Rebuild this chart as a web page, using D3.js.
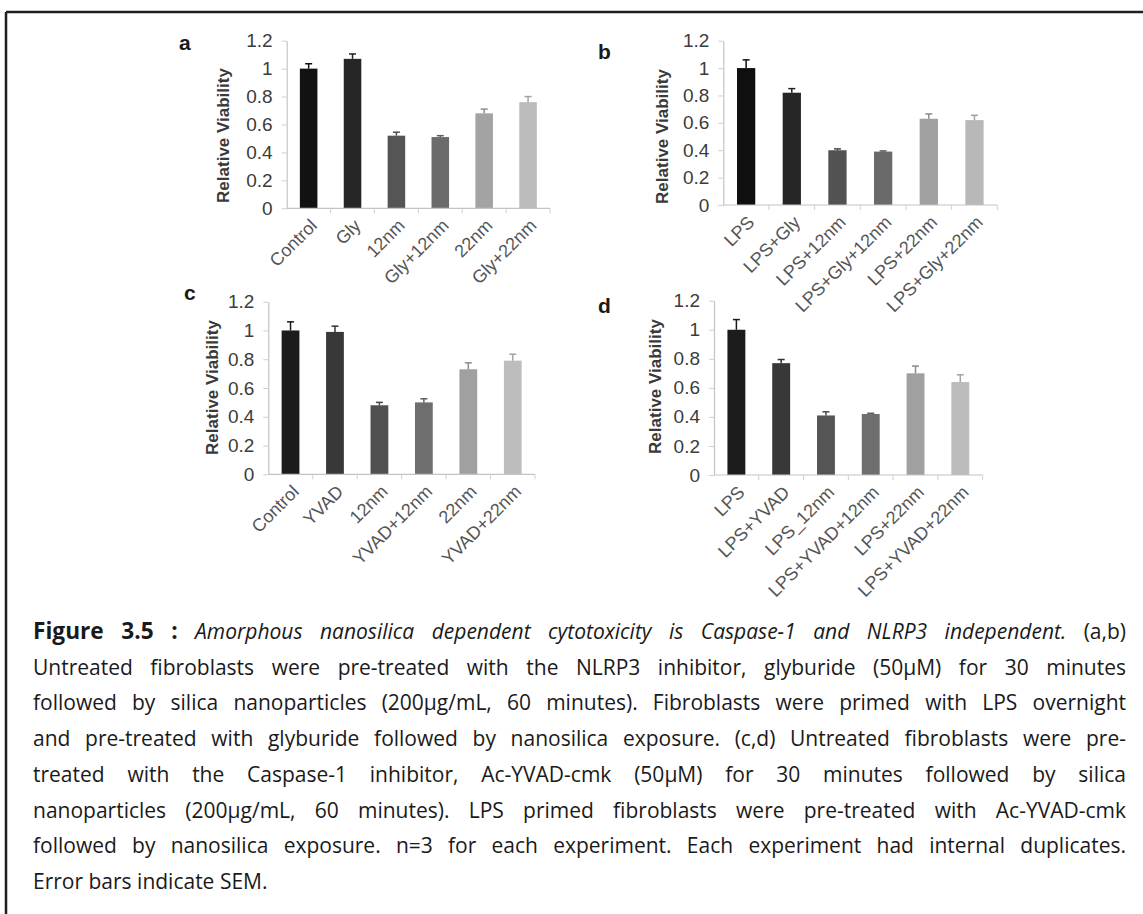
<!DOCTYPE html>
<html><head><meta charset="utf-8">
<script src="https://cdn.jsdelivr.net/npm/d3@7"></script>
<style>
body{margin:0;background:#fff}
svg{display:block}
</style>
</head><body>
<svg id="chart" width="1143" height="914"></svg>
<script>
// ---------- DATA ----------
const yTickValues = [0, 0.2, 0.4, 0.6, 0.8, 1, 1.2];
const yTickLabels = ["0", "0.2", "0.4", "0.6", "0.8", "1", "1.2"];

const catsA = ["Control", "Gly", "12nm", "Gly+12nm", "22nm", "Gly+22nm"];
const valsA = [1.0, 1.07, 0.52, 0.51, 0.68, 0.76];
const errsA = [0.035, 0.035, 0.025, 0.01, 0.03, 0.04];

const catsB = ["LPS", "LPS+Gly", "LPS+12nm", "LPS+Gly+12nm", "LPS+22nm", "LPS+Gly+22nm"];
const valsB = [1.0, 0.82, 0.40, 0.39, 0.63, 0.62];
const errsB = [0.06, 0.03, 0.01, 0.005, 0.035, 0.035];

const catsC = ["Control", "YVAD", "12nm", "YVAD+12nm", "22nm", "YVAD+22nm"];
const valsC = [1.0, 0.99, 0.48, 0.50, 0.73, 0.79];
const errsC = [0.06, 0.04, 0.02, 0.025, 0.045, 0.045];

const catsD = ["LPS", "LPS+YVAD", "LPS_12nm", "LPS+YVAD+12nm", "LPS+22nm", "LPS+YVAD+22nm"];
const valsD = [1.0, 0.77, 0.41, 0.42, 0.70, 0.64];
const errsD = [0.07, 0.025, 0.025, 0.005, 0.05, 0.05];

const panelLetters = ["a", "b", "c", "d"];
const yAxisTitle = "Relative Viability";

const captionLines = [
  [["Figure 3.5 :", "bold"], ["Amorphous nanosilica dependent cytotoxicity is Caspase-1 and NLRP3 independent.", "italic"], ["(a,b)", "normal"]],
  [["Untreated fibroblasts were pre-treated with the NLRP3 inhibitor, glyburide (50µM) for 30 minutes", "normal"]],
  [["followed by silica nanoparticles (200µg/mL, 60 minutes). Fibroblasts were primed with LPS overnight", "normal"]],
  [["and pre-treated with glyburide followed by nanosilica exposure. (c,d) Untreated fibroblasts were pre-", "normal"]],
  [["treated with the Caspase-1 inhibitor, Ac-YVAD-cmk (50µM) for 30 minutes followed by silica", "normal"]],
  [["nanoparticles (200µg/mL, 60 minutes). LPS primed fibroblasts were pre-treated with Ac-YVAD-cmk", "normal"]],
  [["followed by nanosilica exposure. n=3 for each experiment. Each experiment had internal duplicates.", "normal"]],
  [["Error bars indicate SEM.", "normal"]]
];

// ---------- STYLE / LAYOUT ----------
const palettes = [
  ["#121212", "#262626", "#555555", "#6b6b6b", "#a3a3a3", "#bcbcbc"],
  ["#0f0f0f", "#262626", "#525252", "#6a6a6a", "#a0a0a0", "#b8b8b8"],
  ["#1c1c1c", "#383838", "#505050", "#6e6e6e", "#a0a0a0", "#bdbdbd"],
  ["#1c1c1c", "#383838", "#555555", "#6e6e6e", "#a0a0a0", "#bcbcbc"]
];
const layouts = [
  {x0: 286.7, x1: 550,   yTop: 40.7,  yBot: 208.3, titleX: 223, titleY: 135.5, letterX: 179, letterY: 50},
  {x0: 723.3, x1: 997.3, yTop: 40.7,  yBot: 205,   titleX: 662, titleY: 136.5, letterX: 598, letterY: 59},
  {x0: 268.3, x1: 535,   yTop: 301.7, yBot: 474.3, titleX: 212, titleY: 387.5, letterX: 184, letterY: 300},
  {x0: 714,   x1: 982.7, yTop: 300.7, yBot: 475,   titleX: 655, titleY: 386.5, letterX: 598, letterY: 313}
];
const panelData = [
  {cats: catsA, vals: valsA, errs: errsA},
  {cats: catsB, vals: valsB, errs: errsB},
  {cats: catsC, vals: valsC, errs: errsC},
  {cats: catsD, vals: valsD, errs: errsD}
];

const svg = d3.select("#chart");
const chartFont = "'Liberation Sans', Arial, sans-serif";

// frame
svg.append("line").attr("x1", 6).attr("y1", 12).attr("x2", 1143).attr("y2", 12)
  .attr("stroke", "#1e1e1e").attr("stroke-width", 2.5);
svg.append("line").attr("x1", 6).attr("y1", 12).attr("x2", 6).attr("y2", 914)
  .attr("stroke", "#1e1e1e").attr("stroke-width", 2.5);

panelData.forEach((pd, pi) => {
  const L = layouts[pi];
  const g = svg.append("g");
  const x = d3.scaleBand().domain(pd.cats).range([L.x0, L.x1]).paddingInner(0.6).paddingOuter(0.3);
  const y = d3.scaleLinear().domain([0, 1.2]).range([L.yBot, L.yTop]);

  // y axis
  const ya = g.append("g").attr("transform", `translate(${L.x0},0)`)
    .call(d3.axisLeft(y).tickValues(yTickValues).tickFormat((d, i) => yTickLabels[i])
      .tickSize(5).tickSizeOuter(0).tickPadding(9));
  ya.select(".domain").attr("stroke", "#c4c4c4").attr("stroke-width", 1.2);
  ya.selectAll(".tick line").attr("stroke", "#cfcfcf");
  ya.selectAll(".tick text").attr("font-family", chartFont).attr("font-size", 19)
    .attr("fill", "#3c3c3c");

  // bars
  g.selectAll("rect.bar").data(pd.cats).join("rect").attr("class", "bar")
    .attr("x", d => x(d)).attr("width", x.bandwidth())
    .attr("y", (d, i) => y(pd.vals[i]))
    .attr("height", (d, i) => y(0) - y(pd.vals[i]))
    .attr("fill", (d, i) => palettes[pi][i]);

  // error bars (upper only)
  const eb = g.selectAll("g.err").data(pd.cats).join("g").attr("class", "err");
  eb.append("line")
    .attr("x1", d => x(d) + x.bandwidth() / 2).attr("x2", d => x(d) + x.bandwidth() / 2)
    .attr("y1", (d, i) => y(pd.vals[i])).attr("y2", (d, i) => y(pd.vals[i] + pd.errs[i]))
    .attr("stroke", (d, i) => d3.color(palettes[pi][i]).darker(0.4)).attr("stroke-width", 1.5);
  eb.append("line")
    .attr("x1", d => x(d) + x.bandwidth() / 2 - 3.5).attr("x2", d => x(d) + x.bandwidth() / 2 + 3.5)
    .attr("y1", (d, i) => y(pd.vals[i] + pd.errs[i])).attr("y2", (d, i) => y(pd.vals[i] + pd.errs[i]))
    .attr("stroke", (d, i) => d3.color(palettes[pi][i]).darker(0.4)).attr("stroke-width", 1.5);

  // x axis line and boundary ticks
  g.append("line").attr("x1", L.x0).attr("x2", L.x1).attr("y1", y(0)).attr("y2", y(0))
    .attr("stroke", "#c4c4c4").attr("stroke-width", 1.2);
  g.selectAll("line.xt").data(pd.cats).join("line").attr("class", "xt")
    .attr("x1", d => x(d) + x.bandwidth() / 2 + x.step() / 2)
    .attr("x2", d => x(d) + x.bandwidth() / 2 + x.step() / 2)
    .attr("y1", y(0)).attr("y2", y(0) + 5)
    .attr("stroke", "#cfcfcf");

  // x labels
  g.selectAll("text.xl").data(pd.cats).join("text").attr("class", "xl")
    .attr("transform", d => `translate(${x(d) + x.bandwidth() / 2 + 5},${y(0) + 14}) rotate(-45)`)
    .attr("text-anchor", "end").attr("dy", "0.35em")
    .attr("font-family", chartFont).attr("font-size", 18).attr("fill", "#555")
    .text(d => d);

  // y title
  g.append("text")
    .attr("transform", `translate(${L.titleX},${L.titleY}) rotate(-90)`)
    .attr("text-anchor", "middle").attr("dy", "0.35em")
    .attr("font-family", chartFont).attr("font-size", 17).attr("font-weight", "bold")
    .attr("fill", "#3a3a3a").text(yAxisTitle);

  // panel letter
  g.append("text").attr("x", L.letterX).attr("y", L.letterY)
    .attr("font-family", chartFont).attr("font-size", 21).attr("font-weight", "bold")
    .attr("fill", "#1a1a1a").text(panelLetters[pi]);
});

// ---------- CAPTION (justified) ----------
const capFont = "'Open Sans', 'Noto Sans', sans-serif";
const capLeft = 33, capRight = 1126, capTop = 639, capStep = 35.7;
const meas = svg.append("text").attr("font-family", capFont).attr("x", -9999).attr("y", -9999);
function wordWidth(w, style, fs) {
  meas.attr("font-size", style === "bold" ? fs * 1.08 : fs)
    .attr("font-weight", style === "bold" ? "bold" : "normal")
    .attr("font-style", style === "italic" ? "italic" : "normal")
    .text(w);
  return meas.node().getComputedTextLength();
}
function tokens(line) {
  const out = [];
  line.forEach(([t, s]) => t.split(" ").filter(w => w.length).forEach(w => out.push({w, s})));
  return out;
}
// fit font size to the tightest justified line
let fs = 20;
{
  let worst = 0;
  captionLines.slice(0, -1).forEach(line => {
    const tk = tokens(line);
    const sp = wordWidth("a a", "normal", 1) - wordWidth("aa", "normal", 1);
    let w = 0; tk.forEach(t => w += wordWidth(t.w, t.s, 20));
    w += (tk.length - 1) * sp * 20;
    worst = Math.max(worst, w);
  });
  fs = Math.max(15, Math.min(21, 20 * (capRight - capLeft) / worst * 0.995));
}
const spaceW = wordWidth("a a", "normal", fs) - wordWidth("aa", "normal", fs);
captionLines.forEach((line, li) => {
  const tk = tokens(line);
  const widths = tk.map(t => wordWidth(t.w, t.s, fs));
  const total = d3.sum(widths);
  const last = li === captionLines.length - 1;
  const gap = last ? spaceW : (capRight - capLeft - total) / (tk.length - 1);
  const txt = svg.append("text").attr("font-family", capFont).attr("font-size", fs)
    .attr("fill", "#1a1a1a").attr("y", capTop + li * capStep);
  let cx = capLeft;
  tk.forEach((t, i) => {
    txt.append("tspan").attr("x", cx)
      .attr("font-size", t.s === "bold" ? fs * 1.08 : fs)
      .attr("font-weight", t.s === "bold" ? "bold" : "normal")
      .attr("font-style", t.s === "italic" ? "italic" : "normal")
      .text(t.w);
    cx += widths[i] + gap;
  });
});
meas.remove();
</script>
</body></html>
